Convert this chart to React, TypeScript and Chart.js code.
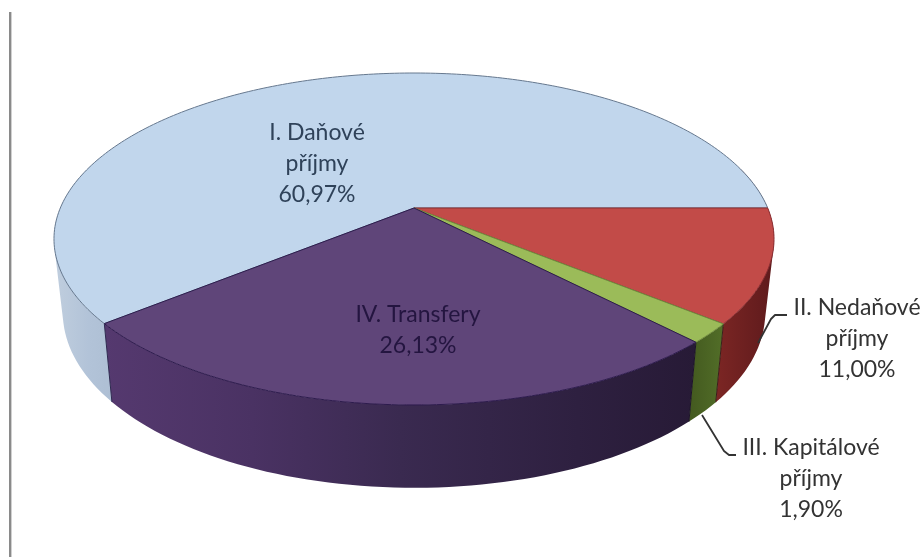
import React, { useEffect, useRef } from "react";
import { Chart, registerables } from "chart.js";

Chart.register(...registerables);

// ---- data ----
const categoryLines: string[][] = [
  ["I. Daňové", "příjmy"],
  ["II. Nedaňové", "příjmy"],
  ["III. Kapitálové", "příjmy"],
  ["IV. Transfery"],
];
const shares: number[] = [60.97, 11.0, 1.9, 26.13];
const startRotationDeg = 230.5;

// ---- styling ----
const topColors = ["#c1d6ec", "#c24b48", "#9bbb59", "#5f4579"];
const edgeColors = ["#66788e", "#8a2f33", "#6f8a3c", "#2c1a4c"];
const wallStops: [number, string][][] = [
  [[0, "#c0cede"], [0.6, "#b2c3d8"], [1, "#aebfd4"]],
  [[0, "#7c2624"], [1, "#5e1a1c"]],
  [[0, "#43591f"], [1, "#526e28"]],
  [[0, "#55396f"], [0.25, "#4a3263"], [0.5, "#3a2a50"], [0.8, "#2e2040"], [1, "#271a36"]],
];
const labelColors = ["#2f4259", "#333333", "#333333", "#241540"];
// label centre x and first line middle y
const labelPos: [number, number][] = [
  [317, 133],
  [857, 308],
  [811, 448],
  [418, 315],
];
const lineGap = 31;
const leaderPaths: [number, number][][] = [
  [[758, 343], [771, 319], [775, 315], [787, 315]],
  [[702, 415], [724, 451], [729, 455], [736, 455]],
];

// ---- projection of the disc ----
const CX = 414;
const topPlane = { y0: 208, a: 160.2, b: 353.7, p: 0.1867 };
const botPlane = { y0: 280, a: 169, b: 345, p: 0.1867 };
type Plane = typeof topPlane;
const proj = (pl: Plane, t: number): [number, number] => {
  const u = Math.cos(t);
  const v = Math.sin(t);
  const w = 1 / (1 - pl.p * v);
  return [CX + pl.b * u * w, pl.y0 + pl.a * v * w];
};
const DEG = Math.PI / 180;

function wallRange(i: number, s: number, e: number): [number, number] {
  // the part of each slice's outer wall that faces the viewer
  if (i === 0) return [s, 200 * DEG];
  if (i === 1) return [s - 15 * DEG, e];
  return [s, e];
}

function drawWall(ctx: CanvasRenderingContext2D, i: number, s: number, e: number) {
  const [a, b] = wallRange(i, s, e);
  const n = Math.max(2, Math.ceil((b - a) / (1.5 * DEG)));
  const xs: number[] = [];
  for (let k = 0; k <= n; k++) {
    const t = a + ((b - a) * k) / n;
    xs.push(proj(topPlane, t)[0], proj(botPlane, t)[0]);
  }
  const grad = ctx.createLinearGradient(Math.min(...xs), 0, Math.max(...xs), 0);
  wallStops[i].forEach(([o, c]) => grad.addColorStop(o, c));
  ctx.fillStyle = grad;
  // one path holding all the strips, so that no seams show between them
  ctx.beginPath();
  for (let k = 0; k < n; k++) {
    const t0 = a + ((b - a) * k) / n;
    const t1 = a + ((b - a) * (k + 1)) / n;
    const quad = [proj(topPlane, t0), proj(topPlane, t1), proj(botPlane, t1), proj(botPlane, t0)];
    // every strip must wind the same way, or overlapping strips cancel out
    let area = 0;
    quad.forEach(([x, y], q) => {
      const [nx, ny] = quad[(q + 1) % 4];
      area += x * ny - nx * y;
    });
    if (area < 0) quad.reverse();
    quad.forEach(([x, y], q) => (q ? ctx.lineTo(x, y) : ctx.moveTo(x, y)));
    ctx.closePath();
  }
  ctx.fill();
}

function drawTop(ctx: CanvasRenderingContext2D, i: number, s: number, e: number) {
  const n = Math.max(2, Math.ceil((e - s) / (1 * DEG)));
  ctx.beginPath();
  ctx.moveTo(CX, topPlane.y0);
  for (let k = 0; k <= n; k++) ctx.lineTo(...proj(topPlane, s + ((e - s) * k) / n));
  ctx.closePath();
  ctx.fillStyle = topColors[i];
  ctx.fill();
  ctx.strokeStyle = edgeColors[i];
  ctx.lineWidth = 1;
  ctx.lineJoin = "round";
  ctx.stroke();
}

const pie3d = {
  id: "pie3d",
  beforeDatasetsDraw(chart: any) {
    const ctx: CanvasRenderingContext2D = chart.ctx;
    const arcs = chart.getDatasetMeta(0).data;
    // page rule on the left
    ctx.save();
    ctx.fillStyle = "#8a8a8a";
    ctx.fillRect(9, 12, 2.4, 545);
    // walls: back to front
    [0, 1, 3, 2].forEach((i) => drawWall(ctx, i, arcs[i].startAngle, arcs[i].endAngle));
    // cut lines on the wall
    [arcs[0].startAngle, arcs[2].startAngle, arcs[3].startAngle].forEach((t: number, j: number) => {
      ctx.beginPath();
      ctx.moveTo(...proj(topPlane, t));
      ctx.lineTo(...proj(botPlane, t));
      ctx.strokeStyle = ["#2e2a50", "#3a1e18", "#1c1428"][j];
      ctx.lineWidth = 1;
      ctx.stroke();
    });
    // top faces
    [0, 1, 2, 3].forEach((i) => drawTop(ctx, i, arcs[i].startAngle, arcs[i].endAngle));
    ctx.restore();
    return false;
  },
  afterDraw(chart: any) {
    const ctx: CanvasRenderingContext2D = chart.ctx;
    ctx.save();
    ctx.strokeStyle = "#333333";
    ctx.lineWidth = 1.8;
    ctx.lineJoin = "round";
    leaderPaths.forEach((path) => {
      ctx.beginPath();
      path.forEach(([x, y], k) => (k ? ctx.lineTo(x, y) : ctx.moveTo(x, y)));
      ctx.stroke();
    });
    ctx.font = '23px "Lato", "Open Sans", sans-serif';
    ctx.textAlign = "center";
    ctx.textBaseline = "middle";
    categoryLines.forEach((lines, i) => {
      const pct = shares[i].toFixed(2).replace(".", ",") + "%";
      const [x, y] = labelPos[i];
      ctx.fillStyle = labelColors[i];
      [...lines, pct].forEach((txt, k) => ctx.fillText(txt, x, y + k * lineGap));
    });
    ctx.restore();
  },
};

export default function App() {
  const ref = useRef<HTMLCanvasElement>(null);
  useEffect(() => {
    const chart = new Chart(ref.current!, {
      type: "pie",
      data: {
        labels: categoryLines.map((l) => l.join(" ")),
        datasets: [{ data: shares, backgroundColor: topColors, borderWidth: 0 }],
      },
      options: {
        responsive: false,
        animation: false,
        devicePixelRatio: 1,
        rotation: startRotationDeg,
        plugins: { legend: { display: false }, tooltip: { enabled: false } },
      },
      plugins: [pie3d],
    } as any);
    return () => chart.destroy();
  }, []);
  return (
    <div style={{ position: "fixed", left: 0, top: 0, width: 923, height: 557, background: "#fff" }}>
      <canvas ref={ref} width={923} height={557} style={{ display: "block", filter: "blur(0.6px)" }} />
    </div>
  );
}
